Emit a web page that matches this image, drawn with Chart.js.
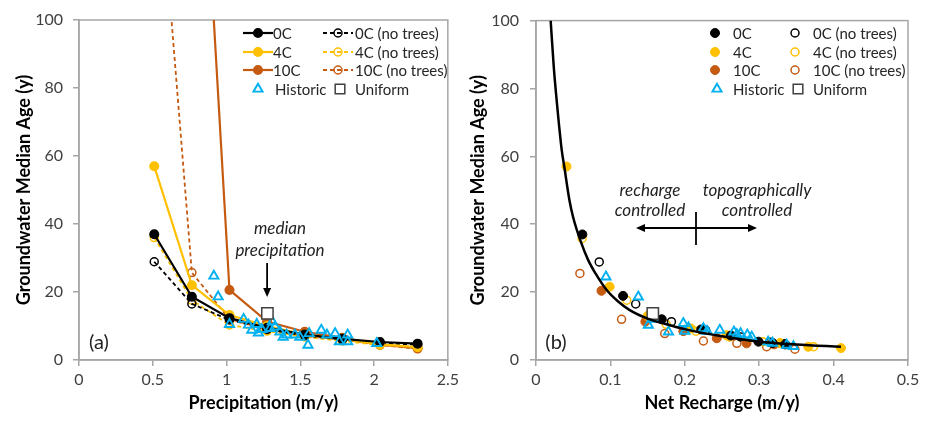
<!DOCTYPE html>
<html>
<head>
<meta charset="utf-8">
<script src="https://cdn.jsdelivr.net/npm/chart.js@4.4.1/dist/chart.umd.min.js"></script>
<style>
  body { margin: 0; background: #fff; }
  #wrap { position: relative; width: 927px; height: 421px; }
  canvas { position: absolute; top: 0; }
</style>
</head>
<body>
<div id="wrap">
  <canvas id="precipCanvas" width="463" height="421" style="left:0"></canvas>
  <canvas id="rechargeCanvas" width="464" height="421" style="left:463px"></canvas>
</div>
<script>
// ---- panel (a): precipitation runs
const precipitacion = [0.51, 0.765, 1.02, 1.275, 1.53, 1.785, 2.04, 2.295];
const edad0C = [37, 18.6, 12.3, 9.5, 7.5, 6.2, 5.3, 4.8];
const edad4C = [57, 22, 13.2, 10, 7.5, 6.2, 4.6, 3.8];
const edad10C = [420, 211, 20.6, 11.3, 8.3, 6.5, 4.6, 3.5];
const edad0CSinArboles = [28.9, 16.5, 11.8, 9, 7.2, 6, 5, 4.5];
const edad4CSinArboles = [36, 17.6, 10.3, 8.5, 6.8, 5.6, 4.4, 3.5];
const edad10CSinArboles = [163, 25.7, 12, 9, 7, 6, 4.4, 3.3];

const historicoPrecip = [0.914, 0.943, 1.02, 1.116, 1.149, 1.171, 1.205, 1.216, 1.239, 1.295, 1.31, 1.328, 1.362, 1.384, 1.407, 1.463, 1.497, 1.552, 1.56, 1.642, 1.68, 1.736, 1.765, 1.821, 1.821, 2.018];
const historicoEdadA = [24.7, 18.6, 10.5, 12, 10.3, 8.8, 10.5, 8, 9, 9.3, 11.3, 9.8, 8.3, 6.7, 7.4, 7.4, 6.7, 4.4, 7.8, 8.8, 7.4, 7.8, 5.4, 7.4, 5.4, 4.9];
const uniformePrecip = [1.277];
const uniformeEdadA = [13.7];
const medianaPrecip = 1.275;

// ---- panel (b): net recharge
const recarga0C = [0.0623, 0.117, 0.169, 0.222, 0.262, 0.299, 0.318, 0.335];
const edadB0C = [37, 18.9, 12, 9, 7.2, 5.4, 5, 4.6];
const recarga4C = [0.041, 0.099, 0.15, 0.208, 0.256, 0.328, 0.366, 0.41];
const edadB4C = [57, 21.6, 13, 9.3, 7.3, 5, 3.9, 3.5];
const recarga10C = [0.088, 0.147, 0.198, 0.243, 0.283, 0.32];
const edadB10C = [20.4, 11.3, 8.5, 6.4, 4.9, 4.6];
const recarga0CSinArboles = [0.085, 0.134, 0.182, 0.228, 0.275, 0.315, 0.333];
const edadB0CSinArboles = [28.9, 16.5, 11.3, 8.8, 6.8, 5.2, 4.8];
const recarga4CSinArboles = [0.062, 0.122, 0.175, 0.215, 0.26, 0.305, 0.328, 0.373];
const edadB4CSinArboles = [35.8, 17.6, 10.5, 8.5, 6.8, 5.4, 4.9, 3.9];
const recarga10CSinArboles = [0.059, 0.115, 0.173, 0.225, 0.27, 0.31, 0.348];
const edadB10CSinArboles = [25.5, 12, 7.8, 5.6, 4.9, 3.9, 3.2];

const historicoRecarga = [0.094, 0.1375, 0.151, 0.158, 0.178, 0.198, 0.2, 0.205, 0.225, 0.23, 0.247, 0.266, 0.27, 0.275, 0.284, 0.29, 0.312, 0.318, 0.337, 0.346];
const historicoEdadB = [24.5, 18.6, 10.3, 12, 8.3, 10.8, 8.5, 9.5, 9.3, 8.5, 8.8, 8.3, 7.5, 7.8, 7.4, 6.8, 5.3, 5, 4.4, 4];
const uniformeRecarga = [0.157];
const uniformeEdadB = [13.7];

// fitted curve
const curvaRecarga = [0.0197, 0.024, 0.028, 0.0345, 0.038, 0.045, 0.05, 0.06, 0.07, 0.08, 0.095, 0.11, 0.126, 0.15, 0.171, 0.2, 0.25, 0.3, 0.35, 0.41];
const curvaEdad = [100, 86, 76, 62, 57, 47, 42, 35, 29.5, 25.5, 20.6, 17.3, 14.7, 12.2, 10.8, 9.1, 7.0, 5.4, 4.6, 3.9];

// ticks
const ticksEdad = [0, 20, 40, 60, 80, 100];

const NEGRO = '#000000';
const AMARILLO = '#ffc000';
const NARANJA = '#c55a11';
const AZUL = '#00b0f0';
const GRIS = '#a6a6a6';
const TEXTO = '#404040';
const FUENTE = 'Lato';

function pares(xs, ys) {
    return xs.map((x, i) => ({ x: x, y: ys[i] }));
}

// line + circle markers (panel a)
function serieLinea(label, xs, ys, color, abierto, orden) {
    return {
        label: label,
        data: pares(xs, ys),
        showLine: true,
        borderColor: color,
        borderWidth: abierto ? 1.8 : 2.2,
        borderDash: abierto ? [4, 3] : [],
        pointStyle: 'circle',
        pointRadius: abierto ? 4 : 4.3,
        pointBorderWidth: 1.5,
        pointBorderColor: color,
        pointBackgroundColor: abierto ? 'rgba(255,255,255,0)' : color,
        order: orden
    };
}

// markers only (panel b)
function seriePuntos(label, xs, ys, color, abierto, orden) {
    return {
        label: label,
        data: pares(xs, ys),
        showLine: false,
        borderColor: color,
        pointStyle: 'circle',
        pointRadius: abierto ? 4 : 4.5,
        pointBorderWidth: abierto ? 1.5 : 1,
        pointBorderColor: color,
        pointBackgroundColor: abierto ? 'rgba(255,255,255,0)' : color,
        order: orden
    };
}

function serieHistorico(xs, ys, orden) {
    return {
        label: 'Historic',
        data: pares(xs, ys),
        showLine: false,
        pointStyle: 'triangle',
        pointRadius: 5.3,
        pointBorderWidth: 1.9,
        pointBorderColor: AZUL,
        pointBackgroundColor: 'rgba(255,255,255,0)',
        order: orden
    };
}

function serieUniforme(xs, ys, orden) {
    return {
        label: 'Uniform',
        data: pares(xs, ys),
        showLine: false,
        pointStyle: 'rect',
        pointRadius: 8,
        pointBorderWidth: 1.5,
        pointBorderColor: '#404040',
        pointBackgroundColor: '#ffffff',
        order: orden
    };
}

function ejeX(max, paso, titulo) {
    return {
        type: 'linear',
        min: 0,
        max: max,
        afterBuildTicks: (s) => {
            const t = [];
            for (let v = 0; v <= max + 1e-9; v += paso) t.push({ value: +v.toFixed(3) });
            s.ticks = t;
        },
        afterFit: (s) => { s.height = 61; },
        grid: { drawOnChartArea: false, color: GRIS, tickLength: 6, lineWidth: 1.5 },
        border: { color: GRIS, width: 1.5 },
        ticks: {
            color: TEXTO,
            font: { family: FUENTE, size: 16 },
            padding: 4,
            maxRotation: 0,
            callback: (v) => String(+Number(v).toFixed(2))
        },
        title: {
            display: true,
            text: titulo,
            color: '#000',
            font: { family: FUENTE, size: 18, weight: 'bold' },
            padding: { top: 0, bottom: 7 }
        }
    };
}

function ejeY(ancho, paddingTitulo, paddingTicks) {
    return {
        type: 'linear',
        min: 0,
        max: 100,
        afterBuildTicks: (s) => { s.ticks = ticksEdad.map(v => ({ value: v })); },
        afterFit: (s) => { s.width = ancho; },
        grid: { drawOnChartArea: false, color: GRIS, tickLength: 6, lineWidth: 1.5 },
        border: { color: GRIS, width: 1.5 },
        ticks: {
            color: TEXTO,
            font: { family: FUENTE, size: 16 },
            padding: paddingTicks
        },
        title: {
            display: true,
            text: 'Groundwater Median Age (y)',
            color: '#000',
            font: { family: FUENTE, size: 18, weight: 'bold' },
            padding: { top: paddingTitulo, bottom: 0 }
        }
    };
}

//marco gris alrededor del area
const marco = {
    id: 'marco',
    beforeDatasetsDraw(chart) {
        const { ctx, chartArea: a } = chart;
        ctx.save();
        ctx.strokeStyle = GRIS;
        ctx.lineWidth = 1.5;
        ctx.strokeRect(a.left, a.top, a.right - a.left, a.bottom - a.top);
        ctx.restore();
    }
};

function marcador(ctx, ds, x, y) {
    const r = ds.pointRadius;
    ctx.save();
    ctx.setLineDash([]);
    ctx.lineWidth = ds.pointBorderWidth;
    ctx.strokeStyle = ds.pointBorderColor;
    ctx.fillStyle = ds.pointBackgroundColor;
    ctx.beginPath();
    if (ds.pointStyle === 'triangle') {
        for (let k = 0; k < 3; k++) {
            const a = k * 2 * Math.PI / 3;
            const px = x + Math.sin(a) * r, py = y - Math.cos(a) * r;
            if (k === 0) ctx.moveTo(px, py); else ctx.lineTo(px, py);
        }
        ctx.closePath();
    } else if (ds.pointStyle === 'rect') {
        const s = r * Math.SQRT1_2 * 0.85;
        ctx.rect(x - s, y - s, 2 * s, 2 * s);
    } else {
        ctx.arc(x, y, r, 0, 2 * Math.PI);
    }
    ctx.fill();
    ctx.stroke();
    ctx.restore();
}

//leyenda dibujada a mano (dos columnas)
function leyenda(id, filas) {
    return {
        id: id,
        afterDraw(chart) {
            const ctx = chart.ctx;
            ctx.save();
            ctx.font = '15px ' + FUENTE;
            ctx.textBaseline = 'middle';
            ctx.textAlign = 'left';
            filas.forEach(f => {
                const ds = chart.data.datasets[f.ds];
                if (f.linea) {
                    ctx.save();
                    ctx.strokeStyle = ds.borderColor;
                    ctx.lineWidth = ds.borderWidth;
                    ctx.setLineDash(ds.borderDash || []);
                    ctx.beginPath();
                    ctx.moveTo(f.mx - 15, f.y);
                    ctx.lineTo(f.mx + 15, f.y);
                    ctx.stroke();
                    ctx.restore();
                }
                marcador(ctx, ds, f.mx, f.y);
                ctx.fillStyle = '#262626';
                ctx.fillText(ds.label, f.tx, f.y + 1);
            });
            ctx.restore();
        }
    };
}

function flecha(ctx, x1, y1, x2, y2) {
    const ang = Math.atan2(y2 - y1, x2 - x1);
    const largo = 9, ancho = 4;
    ctx.beginPath();
    ctx.moveTo(x1, y1);
    ctx.lineTo(x2 - Math.cos(ang) * largo * 0.8, y2 - Math.sin(ang) * largo * 0.8);
    ctx.stroke();
    ctx.beginPath();
    ctx.moveTo(x2, y2);
    ctx.lineTo(x2 - Math.cos(ang) * largo - Math.sin(ang) * ancho, y2 - Math.sin(ang) * largo + Math.cos(ang) * ancho);
    ctx.lineTo(x2 - Math.cos(ang) * largo + Math.sin(ang) * ancho, y2 - Math.sin(ang) * largo - Math.cos(ang) * ancho);
    ctx.closePath();
    ctx.fill();
}

const notasPrecip = {
    id: 'notasPrecip',
    afterDraw(chart) {
        const ctx = chart.ctx;
        const xm = chart.scales.x.getPixelForValue(medianaPrecip);
        ctx.save();
        ctx.fillStyle = '#222';
        ctx.strokeStyle = '#000';
        ctx.lineWidth = 1.8;
        ctx.textAlign = 'center';
        ctx.textBaseline = 'middle';
        ctx.font = 'italic 17px ' + FUENTE;
        ctx.fillText('median', 280, 229);
        ctx.fillText('precipitation', 280, 251);
        ctx.fillStyle = '#000';
        flecha(ctx, xm, 263, xm, 297);
        ctx.fillStyle = '#222';
        ctx.font = '20px ' + FUENTE;
        ctx.fillText('(a)', 99, 343);
        ctx.restore();
    }
};

const notasRecarga = {
    id: 'notasRecarga',
    afterDraw(chart) {
        const ctx = chart.ctx;
        ctx.save();
        ctx.fillStyle = '#222';
        ctx.strokeStyle = '#000';
        ctx.lineWidth = 1.8;
        ctx.textAlign = 'center';
        ctx.textBaseline = 'middle';
        ctx.font = 'italic 17px ' + FUENTE;
        ctx.fillText('recharge', 187, 191);
        ctx.fillText('controlled', 187, 211);
        ctx.fillText('topographically', 294, 191);
        ctx.fillText('controlled', 294, 211);
        ctx.fillStyle = '#000';
        flecha(ctx, 233, 228, 173, 228);
        flecha(ctx, 233, 228, 294, 228);
        ctx.beginPath();
        ctx.moveTo(233, 212);
        ctx.lineTo(233, 245);
        ctx.stroke();
        ctx.fillStyle = '#222';
        ctx.font = '20px ' + FUENTE;
        ctx.fillText('(b)', 93, 343);
        ctx.restore();
    }
};

// ---- grafico (a)
const datosPrecip = [
    serieLinea('0C', precipitacion, edad0C, NEGRO, false, 2),
    serieLinea('4C', precipitacion, edad4C, AMARILLO, false, 3),
    serieLinea('10C', precipitacion, edad10C, NARANJA, false, 4),
    serieLinea('0C (no trees)', precipitacion, edad0CSinArboles, NEGRO, true, 5),
    serieLinea('4C (no trees)', precipitacion, edad4CSinArboles, AMARILLO, true, 6),
    serieLinea('10C (no trees)', precipitacion, edad10CSinArboles, NARANJA, true, 7),
    serieHistorico(historicoPrecip, historicoEdadA, 1),
    serieUniforme(uniformePrecip, uniformeEdadA, 0)
];

new Chart(document.getElementById('precipCanvas'), {
    type: 'scatter',
    data: { datasets: datosPrecip },
    options: {
        responsive: false,
        animation: false,
        layout: { padding: { top: 20, right: 12, left: 0, bottom: 0 } },
        plugins: { legend: { display: false }, tooltip: { enabled: false } },
        scales: {
            x: ejeX(2.5, 0.5, 'Precipitation (m/y)'),
            y: ejeY(79, 13, 10)
        }
    },
    plugins: [marco, notasPrecip, leyenda('leyendaA', [
        { ds: 0, linea: true, mx: 258, tx: 273, y: 33 },
        { ds: 1, linea: true, mx: 258, tx: 273, y: 52 },
        { ds: 2, linea: true, mx: 258, tx: 273, y: 70 },
        { ds: 6, linea: false, mx: 258, tx: 275, y: 89 },
        { ds: 3, linea: true, mx: 338, tx: 355, y: 33 },
        { ds: 4, linea: true, mx: 338, tx: 355, y: 52 },
        { ds: 5, linea: true, mx: 338, tx: 355, y: 70 },
        { ds: 7, linea: false, mx: 340, tx: 355, y: 89 }
    ])]
});

// ---- grafico (b)
const datosRecarga = [
    seriePuntos('0C', recarga0C, edadB0C, NEGRO, false, 3),
    seriePuntos('4C', recarga4C, edadB4C, AMARILLO, false, 4),
    seriePuntos('10C', recarga10C, edadB10C, NARANJA, false, 5),
    seriePuntos('0C (no trees)', recarga0CSinArboles, edadB0CSinArboles, NEGRO, true, 6),
    seriePuntos('4C (no trees)', recarga4CSinArboles, edadB4CSinArboles, AMARILLO, true, 7),
    seriePuntos('10C (no trees)', recarga10CSinArboles, edadB10CSinArboles, NARANJA, true, 8),
    serieHistorico(historicoRecarga, historicoEdadB, 2),
    serieUniforme(uniformeRecarga, uniformeEdadB, 1),
    {
        label: 'fit',
        data: pares(curvaRecarga, curvaEdad),
        showLine: true,
        borderColor: '#000',
        borderWidth: 2.5,
        pointRadius: 0,
        cubicInterpolationMode: 'monotone',
        order: 0
    }
];

new Chart(document.getElementById('rechargeCanvas'), {
    type: 'scatter',
    data: { datasets: datosRecarga },
    options: {
        responsive: false,
        animation: false,
        layout: { padding: { top: 20, right: 19, left: 0, bottom: 0 } },
        plugins: { legend: { display: false }, tooltip: { enabled: false } },
        scales: {
            x: ejeX(0.5, 0.1, 'Net Recharge (m/y)'),
            y: ejeY(73, 4, 11)
        }
    },
    plugins: [marco, notasRecarga, leyenda('leyendaB', [
        { ds: 0, mx: 252, tx: 270, y: 33 },
        { ds: 1, mx: 252, tx: 270, y: 52 },
        { ds: 2, mx: 252, tx: 270, y: 70 },
        { ds: 6, mx: 254, tx: 270, y: 89 },
        { ds: 3, mx: 332, tx: 350, y: 33 },
        { ds: 4, mx: 332, tx: 350, y: 52 },
        { ds: 5, mx: 332, tx: 350, y: 70 },
        { ds: 7, mx: 335, tx: 350, y: 89 }
    ])]
});
</script>
</body>
</html>
